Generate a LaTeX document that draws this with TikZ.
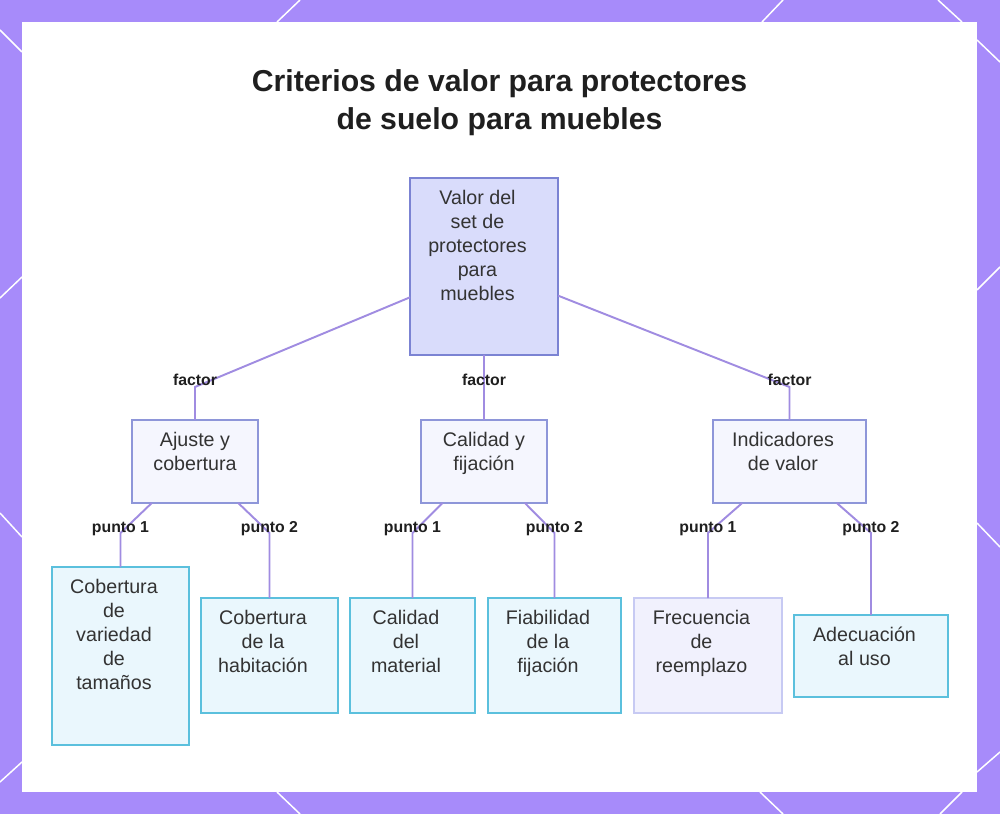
\documentclass[tikz,border=0pt]{standalone}
\usepackage{fontspec}
\setmainfont{Liberation Sans}
\usetikzlibrary{positioning}
\definecolor{framepurple}{HTML}{A78BFA}
\definecolor{edgepurple}{RGB}{160,140,225}
\definecolor{rootfill}{HTML}{D9DCFB}
\definecolor{rootdraw}{HTML}{7B83D3}
\definecolor{midfill}{HTML}{F5F6FE}
\definecolor{middraw}{HTML}{8E96D9}
\definecolor{leaffill}{HTML}{EAF7FD}
\definecolor{leafdraw}{HTML}{5BC0DD}
\definecolor{lavfill}{HTML}{F1F1FD}
\definecolor{lavdraw}{HTML}{C7CAF3}
\definecolor{textgray}{HTML}{333333}
\definecolor{titleblack}{HTML}{1F1F1F}
\newcommand{\boxfont}{\fontsize{11.2pt}{13.6pt}\selectfont}
\newcommand{\tagfont}{\fontsize{9pt}{10pt}\selectfont\bfseries}
\newcommand{\headfont}{\fontsize{17.2pt}{21.5pt}\selectfont\bfseries}

\begin{document}
\begin{tikzpicture}[
  x=0.02cm, y=-0.02cm,
  box/.style={line width=0.85pt, inner sep=0pt, outer sep=0pt, anchor=north west},
  rootbox/.style={box, draw=rootdraw, fill=rootfill},
  factorbox/.style={box, draw=middraw, fill=midfill},
  pointbox/.style={box, draw=leafdraw, fill=leaffill},
  softbox/.style={box, draw=lavdraw, fill=lavfill},
  boxtext/.style={anchor=north, align=center, inner sep=0pt, font=\boxfont,
                  text=textgray, yshift=-0.24cm, xshift=-0.13cm},
  boxtextc/.style={boxtext, xshift=0.13cm},
  edgetag/.style={font=\tagfont, text=titleblack, inner sep=0pt},
  link/.style={draw=edgepurple, line width=1.1pt},
  deco/.style={draw=white, line width=0.85pt}
]
\useasboundingbox (0,0) rectangle (1000,814);
\fill[framepurple] (0,0) rectangle (1000,814);
\fill[white] (22,22) rectangle (977,792);
\draw[deco] (0,30) -- (22,52);
\draw[deco] (277,22) -- (300,0);
\draw[deco] (762,22) -- (783,0);
\draw[deco] (938,0) -- (962,22);
\draw[deco] (977,40) -- (1000,62);
\draw[deco] (0,298) -- (22,277);
\draw[deco] (0,513) -- (22,537);
\draw[deco] (977,290) -- (1000,267);
\draw[deco] (977,523) -- (1000,547);
\draw[deco] (0,782) -- (22,762);
\draw[deco] (277,792) -- (300,814);
\draw[deco] (760,792) -- (783,814);
\draw[deco] (940,814) -- (962,792);
\draw[deco] (977,772) -- (1000,752);

\node[font=\headfont, text=titleblack, align=center, anchor=north, inner sep=0pt] (title)
  at (499.5,69) {Criterios de valor para protectores\\de suelo para muebles};

\node[rootbox, minimum width=2.96cm, minimum height=3.54cm,
  label={[boxtext]north:Valor del\\set de\\protectores\\para\\muebles}] (root) at (410,178) {};

\node[factorbox, minimum width=2.52cm, minimum height=1.66cm,
  label={[boxtextc]north:Ajuste y\\cobertura}] (ajuste) at (132,420) {};
\node[factorbox, minimum width=2.52cm, minimum height=1.66cm,
  label={[boxtextc]north:Calidad y\\fijación}] (calidad) at (421,420) {};
\node[factorbox, minimum width=3.06cm, minimum height=1.66cm,
  label={[boxtext]north:Indicadores\\de valor}] (indic) at (713,420) {};

\node[pointbox, minimum width=2.74cm, minimum height=3.56cm,
  label={[boxtext]north:Cobertura\\de\\variedad\\de\\tamaños}] (tamanos) at (52,567) {};
\node[pointbox, minimum width=2.74cm, minimum height=2.30cm,
  label={[boxtext]north:Cobertura\\de la\\habitación}] (habit) at (201,598) {};
\node[pointbox, minimum width=2.50cm, minimum height=2.30cm,
  label={[boxtext]north:Calidad\\del\\material}] (material) at (350,598) {};
\node[pointbox, minimum width=2.66cm, minimum height=2.30cm,
  label={[boxtext]north:Fiabilidad\\de la\\fijación}] (fiab) at (488,598) {};
\node[softbox, minimum width=2.96cm, minimum height=2.30cm,
  label={[boxtext]north:Frecuencia\\de\\reemplazo}] (frec) at (634,598) {};
\node[pointbox, minimum width=3.08cm, minimum height=1.64cm,
  label={[boxtext]north:Adecuación\\al uso}] (adec) at (794,615) {};

\foreach \parent/\child/\lbl in {root/ajuste/factor, root/calidad/factor, root/indic/factor} {
  \coordinate (b-\child) at (\child |- 0,387);
  \draw[link] (\parent) -- (b-\child) -- (\child);
  \node[edgetag, yshift=0.15cm] (t-\child) at (b-\child) {\lbl};
}
\foreach \parent/\child/\lbl in {ajuste/tamanos/punto 1, ajuste/habit/punto 2,
    calidad/material/punto 1, calidad/fiab/punto 2,
    indic/frec/punto 1, indic/adec/punto 2} {
  \coordinate (b-\child) at (\child |- 0,533);
  \draw[link] (\parent) -- (b-\child) -- (\child);
  \node[edgetag, yshift=0.09cm] (t-\child) at (b-\child) {\lbl};
}
\end{tikzpicture}
\end{document}
